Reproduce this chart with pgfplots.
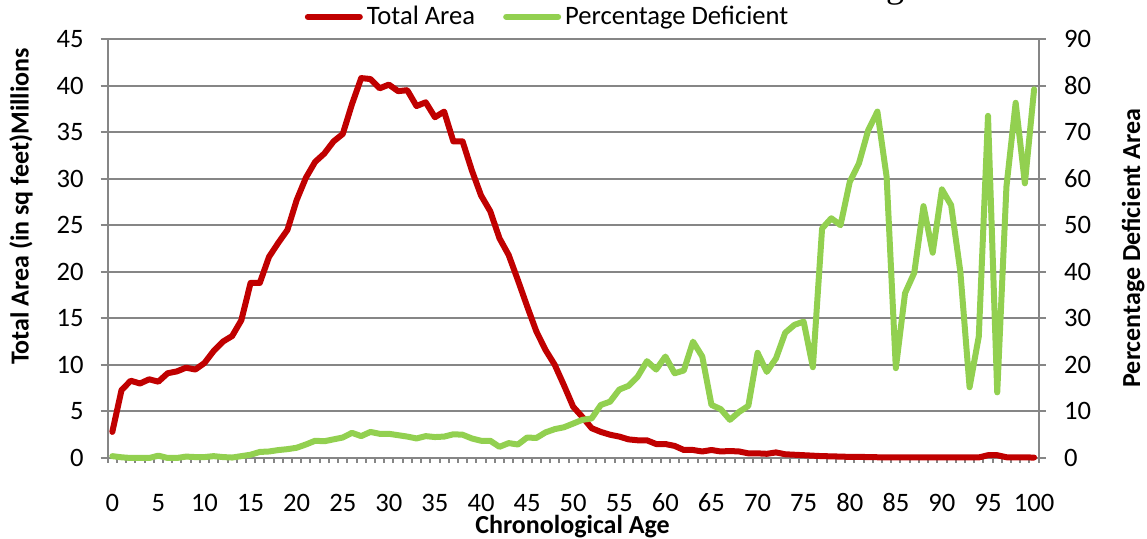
\documentclass[border=0pt]{standalone}
\usepackage{fontspec}
\setmainfont{Carlito}
\newfontfamily\titleserif{Liberation Serif}
\usepackage{pgfplots}
\pgfplotsset{compat=1.18}
\definecolor{redA}{HTML}{C00000}
\definecolor{greenA}{HTML}{92D050}
\definecolor{gridgray}{HTML}{868686}

\pgfplotstableread{
x y
0 2.8
1 7.3
2 8.3
3 8.0
4 8.45
5 8.2
6 9.1
7 9.3
8 9.7
9 9.5
10 10.2
11 11.5
12 12.5
13 13.1
14 14.8
15 18.8
16 18.8
17 21.6
18 23.1
19 24.5
20 27.7
21 30.1
22 31.8
23 32.7
24 34.0
25 34.8
26 38.0
27 40.8
28 40.7
29 39.7
30 40.1
31 39.4
32 39.5
33 37.8
34 38.2
35 36.6
36 37.2
37 34.0
38 34.0
39 30.9
40 28.2
41 26.5
42 23.6
43 21.8
44 19.1
45 16.3
46 13.6
47 11.6
48 10.0
49 7.8
50 5.5
51 4.4
52 3.2
53 2.8
54 2.5
55 2.3
56 2.0
57 1.9
58 1.9
59 1.5
60 1.5
61 1.3
62 0.86
63 0.86
64 0.7
65 0.86
66 0.7
67 0.75
68 0.7
69 0.5
70 0.5
71 0.45
72 0.6
73 0.4
74 0.35
75 0.3
76 0.25
77 0.2
78 0.18
79 0.15
80 0.12
81 0.12
82 0.1
83 0.08
84 0.08
85 0.08
86 0.08
87 0.08
88 0.08
89 0.06
90 0.06
91 0.06
92 0.06
93 0.08
94 0.06
95 0.3
96 0.3
97 0.08
98 0.06
99 0.06
100 0.05
}\redtable

\pgfplotstableread{
x y
0 0.4
1 0.15
2 0
3 0
4 0
5 0.5
6 0
7 0
8 0.3
9 0.2
10 0.2
11 0.4
12 0.2
13 0.1
14 0.4
15 0.7
16 1.3
17 1.4
18 1.7
19 1.9
20 2.2
21 2.9
22 3.7
23 3.6
24 4.0
25 4.4
26 5.4
27 4.7
28 5.6
29 5.2
30 5.2
31 4.9
32 4.6
33 4.2
34 4.7
35 4.5
36 4.6
37 5.1
38 5.0
39 4.2
40 3.7
41 3.7
42 2.4
43 3.2
44 2.9
45 4.4
46 4.3
47 5.5
48 6.2
49 6.6
50 7.4
51 8.2
52 8.5
53 11.4
54 12.1
55 14.7
56 15.5
57 17.5
58 20.8
59 19.0
60 21.8
61 18.2
62 18.8
63 25.0
64 21.8
65 11.4
66 10.5
67 8.2
68 9.9
69 11.2
70 22.6
71 18.5
72 21.4
73 26.9
74 28.6
75 29.3
76 19.5
77 49.3
78 51.5
79 50.0
80 59.3
81 63.3
82 70.4
83 74.4
84 60.4
85 19.3
86 35.4
87 39.8
88 54.1
89 44.1
90 57.7
91 54.3
92 40.0
93 15.2
94 26.1
95 73.5
96 14.1
97 58.3
98 76.3
99 59.0
100 79.2
}\greentable

\begin{document}
\begin{tikzpicture}
\useasboundingbox (0bp,0bp) rectangle (573.5bp,269.5bp);
\begin{axis}[
  at={(53.85bp,40.5bp)}, anchor=south west,
  scale only axis, width=465.5bp, height=209.5bp,
  xmin=-0.5, xmax=100.5, ymin=0, ymax=45,
  clip=false,
  axis lines*=left,
  axis line style={draw=gridgray, line width=1bp},
  ymajorgrids, grid style={draw=gridgray, line width=1bp},
  tick align=outside,
  major tick length=3.5bp, minor tick length=2.5bp,
  tick style={draw=gridgray, line width=1bp},
  xtick={0,5,...,100},
  minor xtick={-0.5,0.5,...,100.5},
  major x tick style={draw=none},
  ytick={0,5,...,45},
  /pgf/number format/assume math mode=true,
  ticklabel style={font=\fontsize{13.3bp}{16bp}\selectfont},
  xticklabel style={anchor=base, inner sep=0pt, yshift=-23bp},
  yticklabel style={anchor=east, inner sep=0pt, xshift=-8.35bp},
  legend style={at={(axis description cs:0.4735,1.053)}, anchor=center,
    draw=none, fill=none, legend columns=2,
    font=\fontsize{13.3bp}{16bp}\selectfont,
    /tikz/every even column/.append style={column sep=12bp}},
  legend image code/.code={\draw[#1, line width=3bp, line cap=round] (0bp,0bp) -- (26bp,0bp);},
]
\addplot[redA, line width=3bp, line join=round, line cap=round] table[x=x,y=y]{\redtable};
\addlegendentry{Total Area}
\addlegendimage{greenA, line width=3bp}
\addlegendentry{Percentage Deficient}
\end{axis}
\begin{axis}[
  at={(53.85bp,40.5bp)}, anchor=south west,
  scale only axis, width=465.5bp, height=209.5bp,
  xmin=-0.5, xmax=100.5, ymin=0, ymax=90,
  clip=false,
  axis x line=none,
  axis y line*=right,
  axis line style={draw=gridgray, line width=1bp},
  tick align=outside,
  major tick length=3.5bp,
  tick style={draw=gridgray, line width=1bp},
  ytick={0,10,...,90},
  /pgf/number format/assume math mode=true,
  ticklabel style={font=\fontsize{13.3bp}{16bp}\selectfont},
  yticklabel style={anchor=west, inner sep=0pt, xshift=9bp},
]
\addplot[greenA, line width=3bp, line join=round, line cap=round] table[x=x,y=y]{\greentable};
\end{axis}
\node[rotate=90, anchor=base, font=\fontsize{13bp}{16bp}\selectfont\bfseries] at (14.25bp,166.25bp) {Total Area (in sq feet)Millions};
\node[rotate=90, anchor=base, font=\fontsize{13bp}{16bp}\selectfont\bfseries] at (570bp,145.5bp) {Percentage Deficient Area};
\node[anchor=base, font=\fontsize{13bp}{16bp}\selectfont\bfseries] at (286.25bp,3bp) {Chronological Age};
\node[anchor=base, inner sep=0pt, font=\fontsize{18bp}{20bp}\selectfont\titleserif] at (447.5bp,270.5bp) {g};
\end{tikzpicture}
\end{document}
